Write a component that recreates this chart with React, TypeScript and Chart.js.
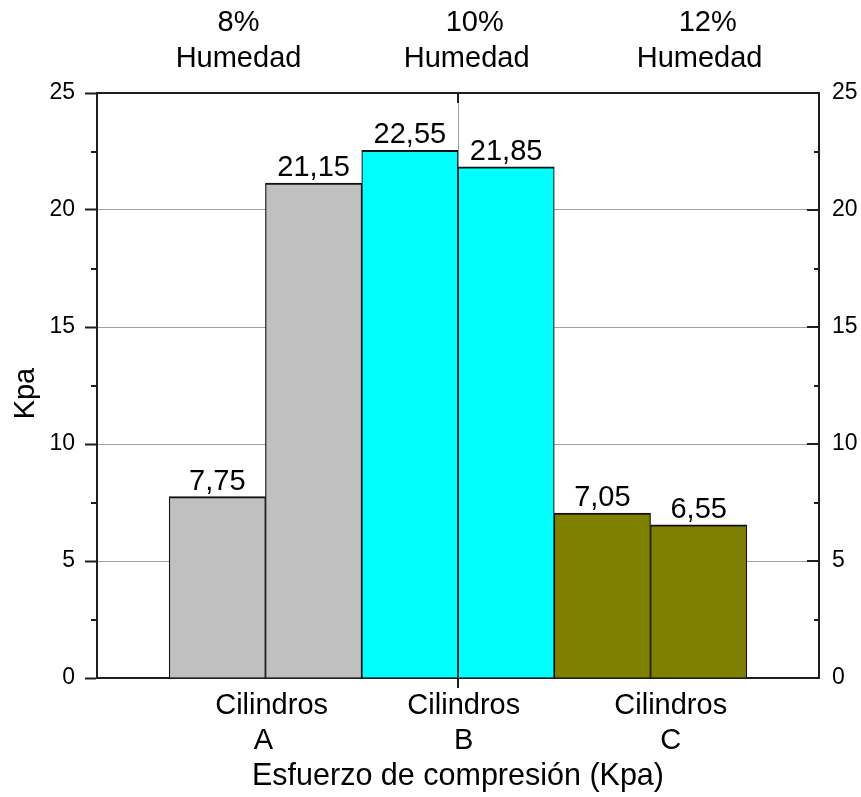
import React, { useEffect, useRef } from 'react';
import { Chart, registerables } from 'chart.js';

Chart.register(...registerables);

// ---- data ----
const BAR_POS = [1, 2, 3, 4, 5, 6];
const VALUES = [7.75, 21.15, 22.55, 21.85, 7.05, 6.55];
const BAR_COLORS = ['#c0c0c0', '#c0c0c0', '#00ffff', '#00ffff', '#808000', '#808000'];
const X_MIN = -0.25;
const X_MAX = 7.25;
const BOTTOM_LABEL_POS = [1.48, 3.56, 5.71];
const BOTTOM_LABELS = [['  Cilindros', 'A'], ['Cilindros', 'B'], ['Cilindros', 'C']];
const TOP_LABEL_POS = [1.22, 3.59, 6.01];
const TOP_LABELS = [['8%', 'Humedad'], ['  10%', 'Humedad'], ['  12%', 'Humedad']];
const Y_TICKS = [0, 5, 10, 15, 20, 25];
const X_GRID = [3.5];
const Y_TITLE = 'Kpa  ';
const X_TITLE = 'Esfuerzo de compresión (Kpa)';

const FONT = '"Liberation Sans", Arial, Helvetica, sans-serif';
const AXIS_COLOR = '#1e1e1e';
const GRID_COLOR = '#a0a0a0';

const fmt = (v: number) => v.toFixed(2).replace('.', ',');

const extrasPlugin = {
  id: 'extras',
  beforeDatasetsDraw(chart: any) {
    const { ctx, chartArea, scales } = chart;
    ctx.save();
    ctx.strokeStyle = GRID_COLOR;
    ctx.lineWidth = 1;
    X_GRID.forEach((v) => {
      const x = Math.round(scales.x.getPixelForValue(v)) + 0.5;
      ctx.beginPath();
      ctx.moveTo(x, chartArea.top);
      ctx.lineTo(x, chartArea.bottom);
      ctx.stroke();
    });
    ctx.restore();
  },
  afterDatasetsDraw(chart: any) {
    const { ctx } = chart;
    const meta = chart.getDatasetMeta(0);
    ctx.save();
    ctx.fillStyle = '#000';
    ctx.font = `29px ${FONT}`;
    ctx.textAlign = 'center';
    ctx.textBaseline = 'alphabetic';
    meta.data.forEach((el: any, i: number) => {
      ctx.fillText(fmt(VALUES[i]), el.x, el.y - 7);
    });
    ctx.restore();
  },
  afterDraw(chart: any) {
    const { ctx, chartArea, scales } = chart;
    const { left, right, top, bottom } = chartArea;
    ctx.save();
    ctx.strokeStyle = AXIS_COLOR;
    ctx.lineWidth = 2;
    const line = (x1: number, y1: number, x2: number, y2: number) => {
      ctx.beginPath();
      ctx.moveTo(x1, y1);
      ctx.lineTo(x2, y2);
      ctx.stroke();
    };
    // minor ticks (midpoints between major ticks)
    for (let i = 0; i < Y_TICKS.length - 1; i++) {
      const v = (Y_TICKS[i] + Y_TICKS[i + 1]) / 2;
      const y = Math.round(scales.y.getPixelForValue(v));
      line(left - 6, y, left, y);
      line(right, y, right - 5, y);
    }
    // right axis major ticks inward
    Y_TICKS.forEach((v) => {
      const y = Math.round(scales.y2.getPixelForValue(v));
      line(right, y, right - 12, y);
    });
    // x ticks
    X_GRID.forEach((v) => {
      const x = Math.round(scales.x.getPixelForValue(v));
      line(x, top, x, top + 10);
      line(x, bottom, x, bottom + 10);
    });
    ctx.restore();
  },
};

export default function App() {
  const ref = useRef<HTMLCanvasElement | null>(null);

  useEffect(() => {
    if (!ref.current) return;
    Chart.defaults.color = '#000';
    Chart.defaults.font.family = FONT;
    const chart = new Chart(ref.current, {
      type: 'bar',
      data: {
        datasets: [
          {
            data: BAR_POS.map((x, i) => ({ x, y: VALUES[i] })),
            backgroundColor: BAR_COLORS,
            borderColor: '#111',
            borderWidth: { top: 2, left: 1.2, right: 1.2, bottom: 0 },
            borderSkipped: false,
            barPercentage: 1,
            categoryPercentage: 1,
          },
        ],
      },
      options: {
        animation: false,
        responsive: true,
        maintainAspectRatio: false,
        devicePixelRatio: 1,
        layout: { padding: 0 },
        plugins: {
          legend: { display: false },
          tooltip: { enabled: false },
        },
        scales: {
          x: {
            type: 'linear',
            position: 'bottom',
            offset: false,
            min: X_MIN,
            max: X_MAX,
            afterBuildTicks: (s: any) => {
              s.ticks = BOTTOM_LABEL_POS.map((v) => ({ value: v }));
            },
            afterFit: (s: any) => {
              s.height = 119;
            },
            ticks: {
              autoSkip: false,
              maxRotation: 0,
              padding: 10,
              font: { size: 29, lineHeight: 35 / 29 },
              callback: (_v: any, i: number) => BOTTOM_LABELS[i],
            },
            grid: { display: false, drawTicks: false },
            border: { display: true, color: AXIS_COLOR, width: 2 },
            title: {
              display: true,
              text: X_TITLE,
              font: { size: 30.5, lineHeight: 0.82 },
              padding: { top: 0, bottom: 8 },
            },
          },
          x2: {
            type: 'linear',
            position: 'top',
            offset: false,
            min: X_MIN,
            max: X_MAX,
            afterBuildTicks: (s: any) => {
              s.ticks = TOP_LABEL_POS.map((v) => ({ value: v }));
            },
            afterFit: (s: any) => {
              s.height = 93;
            },
            ticks: {
              autoSkip: false,
              maxRotation: 0,
              padding: 16,
              font: { size: 29, lineHeight: 36 / 29 },
              callback: (_v: any, i: number) => TOP_LABELS[i],
            },
            grid: { display: false, drawTicks: false },
            border: { display: true, color: AXIS_COLOR, width: 2 },
          },
          y: {
            type: 'linear',
            position: 'left',
            min: 0,
            max: 25,
            afterBuildTicks: (s: any) => {
              s.ticks = Y_TICKS.map((v) => ({ value: v }));
            },
            afterFit: (s: any) => {
              s.width = 97;
            },
            ticks: {
              padding: 10,
              font: { size: 23 },
              callback: (v: any) => String(v),
            },
            grid: {
              color: GRID_COLOR,
              lineWidth: 1,
              tickColor: AXIS_COLOR,
              tickLength: 12,
              tickWidth: 2,
            },
            border: { display: true, color: AXIS_COLOR, width: 2 },
            title: {
              display: true,
              text: Y_TITLE,
              font: { size: 29, lineHeight: 1.2 },
              padding: { top: 9, bottom: 0 },
            },
          },
          y2: {
            type: 'linear',
            position: 'right',
            min: 0,
            max: 25,
            afterBuildTicks: (s: any) => {
              s.ticks = Y_TICKS.map((v) => ({ value: v }));
            },
            afterFit: (s: any) => {
              s.width = 42;
            },
            ticks: {
              padding: 13,
              font: { size: 23 },
              callback: (v: any) => String(v),
            },
            grid: { drawOnChartArea: false, drawTicks: false },
            border: { display: true, color: AXIS_COLOR, width: 2 },
          },
        },
      },
      plugins: [extrasPlugin],
    } as any);
    return () => chart.destroy();
  }, []);

  return (
    <div style={{ position: 'absolute', left: 0, top: 0, width: 861, height: 797 }}>
      <canvas ref={ref} />
    </div>
  );
}
